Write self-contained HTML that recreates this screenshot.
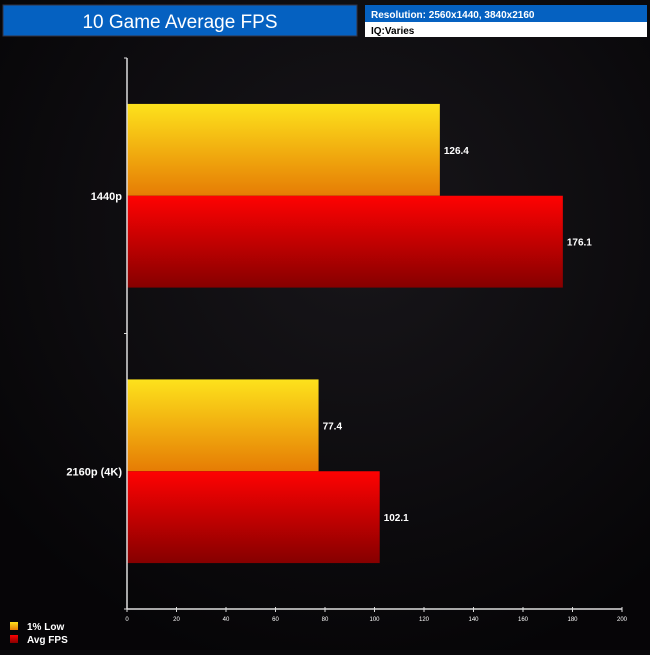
<!DOCTYPE html>
<html><head><meta charset="utf-8"><style>
body{margin:0;width:650px;height:650px;background:#0a090c;overflow:hidden;font-family:"Liberation Sans",sans-serif}
</style></head><body>
<svg width="650" height="650" xmlns="http://www.w3.org/2000/svg">
<defs>
<linearGradient id="gy" x1="0" y1="0" x2="0" y2="1"><stop offset="0" stop-color="#fde21c"/><stop offset="1" stop-color="#e67c04"/></linearGradient>
<linearGradient id="gr" x1="0" y1="0" x2="0" y2="1"><stop offset="0" stop-color="#ff0202"/><stop offset="1" stop-color="#860000"/></linearGradient>
<radialGradient id="bg" cx="0.55" cy="0.35" r="0.7"><stop offset="0" stop-color="#18161a"/><stop offset="1" stop-color="#060507"/></radialGradient>
</defs>
<rect width="650" height="650" fill="url(#bg)"/>
<rect x="3" y="5" width="354" height="31" fill="#0561c1" stroke="#334"/>
<text x="180" y="28" fill="#fff" font-size="19" text-anchor="middle">10 Game Average FPS</text>
<rect x="365" y="5" width="282" height="17" fill="#0561c1"/>
<text x="371" y="18" fill="#fff" font-size="10" font-weight="bold">Resolution: 2560x1440, 3840x2160</text>
<rect x="365" y="22" width="282" height="15" fill="#fff"/>
<text x="371" y="34" fill="#000" font-size="10" font-weight="bold">IQ:Varies</text>
<g id="plot"></g>
<rect x="10" y="622" width="8" height="8" fill="url(#gy)"/>
<text x="27" y="630" fill="#fff" font-size="10" font-weight="bold">1% Low</text>
<rect x="10" y="635" width="8" height="8" fill="url(#gr)"/>
<text x="27" y="643" fill="#fff" font-size="10" font-weight="bold">Avg FPS</text>
</svg>
<script>
const categories=["1440p","2160p (4K)"];
const lowValues=[126.4,77.4];
const avgValues=[176.1,102.1];
const xTicks=[0,20,40,60,80,100,120,140,160,180,200];
const X0=127,X1=622,Y0=58,Y1=609,XMAX=200;
const xs=v=>X0+(X1-X0)*v/XMAX;
const band=(Y1-Y0)/categories.length;
const g=document.getElementById('plot');
const NS="http://www.w3.org/2000/svg";
function mk(t,a){const e=document.createElementNS(NS,t);for(const k in a)e.setAttribute(k,a[k]);g.appendChild(e);return e;}
categories.forEach((c,i)=>{
 const cy=Y0+band*(i+0.5);
 const bh=band/3;
 const r1=mk('rect',{x:X0,y:cy-bh,width:xs(lowValues[i])-X0,height:bh,fill:'url(#gy)'});
 
 
 const r2=mk('rect',{x:X0,y:cy,width:xs(avgValues[i])-X0,height:bh,fill:'url(#gr)'});
 
 
 const t1=mk('text',{x:xs(lowValues[i])+4,y:cy-bh/2+4,fill:'#fff','font-size':10,'font-weight':'bold'});t1.textContent=lowValues[i].toFixed(1);
 
 
 const t2=mk('text',{x:xs(avgValues[i])+4,y:cy+bh/2+4,fill:'#fff','font-size':10,'font-weight':'bold'});t2.textContent=avgValues[i].toFixed(1);
 
 
 const lb=mk('text',{x:X0-5,y:cy+4,fill:'#fff','font-size':11,'font-weight':'bold','text-anchor':'end'});lb.textContent=c;
 
 
});
for(let i=0;i<=categories.length;i++){const y=Y0+band*i;const l=mk('line',{x1:X0-3,x2:X0,y1:y,y2:y,stroke:'#ddd'});
 
 }
const ya=mk('line',{x1:X0,x2:X0,y1:Y0,y2:Y1,stroke:'#ddd','stroke-width':1.5});


const xa=mk('line',{x1:X0,x2:X1,y1:Y1,y2:Y1,stroke:'#ddd','stroke-width':1.5});


xTicks.forEach(v=>{
 const l=mk('line',{x1:xs(v),x2:xs(v),y1:Y1-2,y2:Y1+3,stroke:'#ddd'});
 
 
 const t=mk('text',{x:xs(v),y:Y1+12,fill:'#fff','font-size':6,'text-anchor':'middle'});t.textContent=v;
 
 
});
</script>
</body></html>
